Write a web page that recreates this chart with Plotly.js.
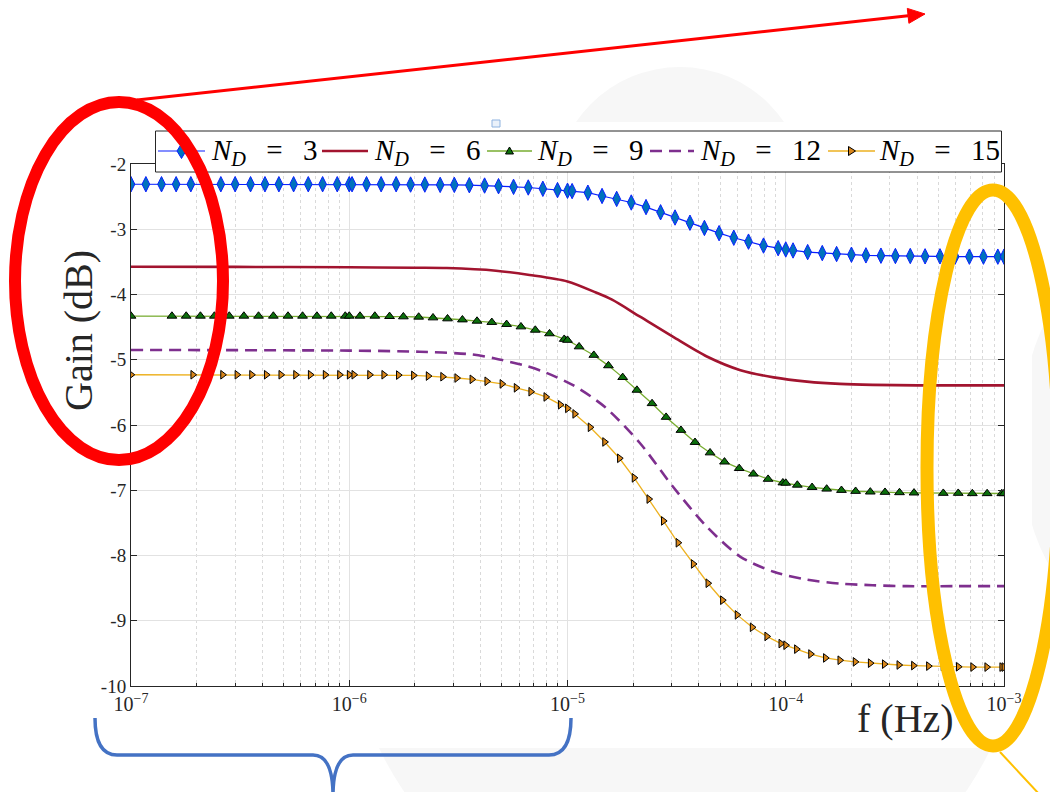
<!DOCTYPE html>
<html>
<head>
<meta charset="utf-8">
<script src="https://cdn.plot.ly/plotly-3.0.1.min.js"></script>
<style>
  html, body { margin: 0; padding: 0; background: #ffffff; }
  #chart { width: 1050px; height: 792px; }
</style>
</head>
<body>
<div id="chart"></div>
<script>
// ---------------------------------------------------------------
// Gain (dB) versus frequency f (Hz) for several values of N_D
// ---------------------------------------------------------------

const seriesNames = [3, 6, 9, 12, 15];

// N_D = 3
const freqND3 = [1.00e-7, 1.17e-7, 1.38e-7, 1.61e-7, 1.88e-7, 2.21e-7, 2.58e-7, 3.00e-7, 3.53e-7, 4.11e-7,
  4.76e-7, 5.56e-7, 6.49e-7, 7.55e-7, 8.81e-7, 1.00e-6, 1.03e-6, 1.20e-6, 1.40e-6, 1.64e-6,
  1.91e-6, 2.22e-6, 2.61e-6, 3.03e-6, 3.55e-6, 4.17e-6, 4.83e-6, 5.66e-6, 6.61e-6, 7.71e-6,
  9.00e-6, 1.00e-5, 1.05e-5, 1.24e-5, 1.44e-5, 1.68e-5, 1.96e-5, 2.29e-5, 2.67e-5, 3.11e-5,
  3.64e-5, 4.24e-5, 4.95e-5, 5.78e-5, 6.75e-5, 7.91e-5, 9.23e-5, 1.00e-4, 1.08e-4, 1.26e-4,
  1.47e-4, 1.71e-4, 2.00e-4, 2.33e-4, 2.73e-4, 3.18e-4, 3.72e-4, 4.35e-4, 5.09e-4, 5.97e-4,
  6.94e-4, 8.05e-4, 9.37e-4, 1.00e-3];
const gainND3 = [-2.31, -2.31, -2.31, -2.31, -2.31, -2.31, -2.31, -2.31, -2.31, -2.31,
  -2.31, -2.31, -2.31, -2.31, -2.31, -2.31, -2.31, -2.31, -2.31, -2.31,
  -2.315, -2.315, -2.32, -2.32, -2.325, -2.33, -2.34, -2.35, -2.36, -2.38,
  -2.40, -2.41, -2.415, -2.44, -2.49, -2.535, -2.59, -2.66, -2.74, -2.82,
  -2.90, -2.98, -3.06, -3.13, -3.19, -3.25, -3.29, -3.31, -3.325, -3.35,
  -3.365, -3.38, -3.39, -3.40, -3.405, -3.41, -3.41, -3.415, -3.415, -3.42,
  -3.42, -3.42, -3.42, -3.42];

// N_D = 6
const freqND6 = [1e-7, 3e-7, 1e-6, 2e-6, 2.8e-6, 4.7e-6, 6.7e-6, 1e-5, 1.35e-5, 1.6e-5,
  2.15e-5, 3.05e-5, 4.35e-5, 6.2e-5, 8.8e-5, 1.25e-4, 1.77e-4, 2.5e-4, 4e-4, 6e-4, 1e-3];
const gainND6 = [-3.575, -3.577, -3.583, -3.59, -3.595, -3.635, -3.70, -3.80, -3.97, -4.08,
  -4.34, -4.65, -4.95, -5.16, -5.27, -5.335, -5.37, -5.385, -5.392, -5.393, -5.393];

// N_D = 9
const freqND9 = [1.00e-7, 1.54e-7, 1.79e-7, 2.08e-7, 2.41e-7, 2.82e-7, 3.29e-7, 3.84e-7, 4.49e-7, 5.24e-7,
  6.11e-7, 7.11e-7, 8.27e-7, 9.59e-7, 1.00e-6, 1.12e-6, 1.31e-6, 1.53e-6, 1.77e-6, 2.08e-6,
  2.42e-6, 2.82e-6, 3.30e-6, 3.85e-6, 4.50e-6, 5.26e-6, 6.12e-6, 7.12e-6, 8.27e-6, 9.66e-6,
  1.00e-5, 1.13e-5, 1.32e-5, 1.54e-5, 1.79e-5, 2.08e-5, 2.44e-5, 2.83e-5, 3.31e-5, 3.84e-5,
  4.50e-5, 5.24e-5, 6.12e-5, 7.11e-5, 8.30e-5, 9.70e-5, 1.00e-4, 1.13e-4, 1.32e-4, 1.54e-4,
  1.80e-4, 2.09e-4, 2.44e-4, 2.85e-4, 3.32e-4, 3.87e-4, 4.50e-4, 5.27e-4, 6.17e-4, 7.16e-4,
  8.37e-4, 9.77e-4, 1.00e-3];
const gainND9 = [-4.33, -4.33, -4.33, -4.33, -4.33, -4.33, -4.33, -4.33, -4.33, -4.33,
  -4.33, -4.33, -4.33, -4.33, -4.33, -4.33, -4.33, -4.335, -4.34, -4.345,
  -4.356, -4.371, -4.387, -4.407, -4.426, -4.457, -4.494, -4.545, -4.60, -4.685,
  -4.70, -4.80, -4.93, -5.09, -5.27, -5.465, -5.67, -5.88, -6.08, -6.265,
  -6.425, -6.565, -6.665, -6.75, -6.83, -6.885, -6.89, -6.92, -6.955, -6.98,
  -7.00, -7.015, -7.025, -7.03, -7.035, -7.04, -7.04, -7.045, -7.045, -7.05,
  -7.05, -7.05, -7.05];

// N_D = 12
const freqND12 = [1e-7, 1e-6, 2.1e-6, 3.6e-6, 4.6e-6, 6.5e-6, 8e-6, 1.06e-5, 1.48e-5, 2.15e-5,
  3.05e-5, 4.35e-5, 6.2e-5, 8.8e-5, 1.25e-4, 1.77e-4, 2.5e-4, 3.6e-4, 6e-4, 1e-3];
const gainND12 = [-4.85, -4.86, -4.877, -4.917, -4.978, -5.097, -5.20, -5.39, -5.72, -6.28,
  -6.95, -7.56, -8.02, -8.25, -8.37, -8.43, -8.456, -8.47, -8.47, -8.47];

// N_D = 15
const freqND15 = [1.00e-7, 1.92e-7, 2.24e-7, 2.63e-7, 3.06e-7, 3.57e-7, 4.17e-7, 4.86e-7, 5.68e-7, 6.63e-7,
  7.76e-7, 9.03e-7, 1.00e-6, 1.05e-6, 1.24e-6, 1.44e-6, 1.68e-6, 1.97e-6, 2.30e-6, 2.68e-6,
  3.11e-6, 3.65e-6, 4.27e-6, 5.01e-6, 5.82e-6, 6.79e-6, 7.96e-6, 9.27e-6, 1.00e-5, 1.08e-5,
  1.27e-5, 1.48e-5, 1.73e-5, 2.02e-5, 2.36e-5, 2.75e-5, 3.21e-5, 3.77e-5, 4.40e-5, 5.13e-5,
  5.99e-5, 7.02e-5, 8.19e-5, 9.50e-5, 1.00e-4, 1.12e-4, 1.30e-4, 1.52e-4, 1.77e-4, 2.08e-4,
  2.44e-4, 2.83e-4, 3.30e-4, 3.85e-4, 4.51e-4, 5.26e-4, 6.18e-4, 7.19e-4, 8.34e-4, 9.77e-4,
  1.00e-3];
const gainND15 = [-5.23, -5.23, -5.23, -5.23, -5.23, -5.23, -5.23, -5.23, -5.23, -5.23,
  -5.23, -5.23, -5.23, -5.23, -5.23, -5.23, -5.235, -5.24, -5.25, -5.26,
  -5.28, -5.30, -5.33, -5.37, -5.43, -5.49, -5.57, -5.69, -5.745, -5.83,
  -6.035, -6.26, -6.51, -6.81, -7.135, -7.47, -7.805, -8.13, -8.425, -8.685,
  -8.91, -9.10, -9.24, -9.35, -9.375, -9.435, -9.51, -9.57, -9.605, -9.63,
  -9.65, -9.665, -9.678, -9.687, -9.695, -9.70, -9.705, -9.71, -9.71, -9.71,
  -9.71];

// axis ticks
const xTickVals = [1e-7, 1e-6, 1e-5, 1e-4, 1e-3];
const xTickText = ['10<sup>\u22127</sup>', '10<sup>\u22126</sup>', '10<sup>\u22125</sup>',
                   '10<sup>\u22124</sup>', '10<sup>\u22123</sup>'];
const yTickVals = [-10, -9, -8, -7, -6, -5, -4, -3, -2];
const yTickText = ['-10', '-9', '-8', '-7', '-6', '-5', '-4', '-3', '-2'];

// ---------------------------------------------------------------
// styling
// ---------------------------------------------------------------
const SERIF = 'Liberation Serif, Times New Roman, serif';
const INK = '#262626';
const COL = {
  nd3Line: '#0a1eff', nd3Fill: '#0072BD',
  nd6: '#A2142F',
  nd9Line: '#77AC30', nd9Fill: '#0b6e0b',
  nd12: '#7E2F8E',
  nd15Line: '#EDB120', nd15Fill: '#D9861A'
};

// plot-area box in page pixels, used to place paper-referenced decorations
const L = 131, T = 164, W = 873, H = 522;
const px = x => (x - L) / W;
const py = y => (T + H - y) / H;
const pxPath = s => s.replace(/(-?[\d.]+),(-?[\d.]+)/g,
  (m, a, b) => px(+a).toFixed(5) + ',' + py(+b).toFixed(5));

// minor tick positions of the log axis (2..9 within each decade)
const xMinor = [];
for (let d = -7; d < -3; d++) for (let k = 2; k <= 9; k++) xMinor.push(k * Math.pow(10, d));

const traces = [
  { x: freqND3, y: gainND3, mode: 'lines+markers', name: 'N_D = 3',
    line: { color: COL.nd3Line, width: 1.2 },
    marker: { symbol: 'diamond-tall', size: 11, color: COL.nd3Fill, line: { color: COL.nd3Line, width: 1 } } },
  { x: freqND6, y: gainND6, mode: 'lines', name: 'N_D = 6',
    line: { color: COL.nd6, width: 2.6, shape: 'spline', smoothing: 0.8 } },
  { x: freqND9, y: gainND9, mode: 'lines+markers', name: 'N_D = 9',
    line: { color: COL.nd9Line, width: 1.3 },
    marker: { symbol: 'triangle-up', size: 8.5, color: COL.nd9Fill, line: { color: '#000', width: 1 } } },
  { x: freqND12, y: gainND12, mode: 'lines', name: 'N_D = 12',
    line: { color: COL.nd12, width: 2.6, dash: '12px,7px', shape: 'spline', smoothing: 0.8 } },
  { x: freqND15, y: gainND15, mode: 'lines+markers', name: 'N_D = 15',
    line: { color: COL.nd15Line, width: 1.3 },
    marker: { symbol: 'triangle-right', size: 7.5, color: COL.nd15Fill, line: { color: '#000', width: 1 } } }
];

// ---------------------------------------------------------------
// legend drawn as a framed strip above the axes
// ---------------------------------------------------------------
const legY = 151;
const legendItems = [
  { x0: 158, x1: 205, tx: 209, kind: 'diamond', line: COL.nd3Line, lw: 1.2, fill: COL.nd3Fill },
  { x0: 322, x1: 368, tx: 372, kind: 'none', line: COL.nd6, lw: 2.6 },
  { x0: 487, x1: 532, tx: 535, kind: 'tri-up', line: COL.nd9Line, lw: 1.3, fill: COL.nd9Fill },
  { x0: 650, x1: 694, tx: 698, kind: 'none', line: COL.nd12, lw: 2.6, dash: '12px,7px' },
  { x0: 828, x1: 875, tx: 877, kind: 'tri-right', line: COL.nd15Line, lw: 1.3, fill: COL.nd15Fill }
];

const shapes = [];
const annotations = [];

// faint background artwork around the figure
const GHOST = '#f7f7f7';
shapes.push({ type: 'circle', xref: 'paper', yref: 'paper', layer: 'below',
  x0: px(554), x1: px(806), y0: py(319), y1: py(67), fillcolor: GHOST, line: { width: 0 } });
shapes.push({ type: 'circle', xref: 'paper', yref: 'paper', layer: 'below',
  x0: px(345), x1: px(1025), y0: py(940), y1: py(260), fillcolor: GHOST, line: { width: 0 } });
shapes.push({ type: 'circle', xref: 'paper', yref: 'paper', layer: 'below',
  x0: px(1020), x1: px(1200), y0: py(610), y1: py(270), fillcolor: GHOST, line: { width: 0 } });
// white figure sheet
shapes.push({ type: 'rect', xref: 'paper', yref: 'paper', layer: 'below',
  x0: px(-5), x1: px(1032), y0: py(748), y1: py(122), fillcolor: '#ffffff', line: { width: 0 } });

// legend frame
shapes.push({ type: 'rect', xref: 'paper', yref: 'paper', layer: 'above',
  x0: px(155.5), x1: px(1001.5), y0: py(172), y1: py(131),
  fillcolor: '#ffffff', line: { color: INK, width: 1 } });

legendItems.forEach((it, i) => {
  shapes.push({ type: 'line', xref: 'paper', yref: 'paper', layer: 'above',
    x0: px(it.x0), x1: px(it.x1), y0: py(legY), y1: py(legY),
    line: { color: it.line, width: it.lw, dash: it.dash || 'solid' } });
  const cx = (it.x0 + it.x1) / 2;
  let p = null, edge = '#000';
  if (it.kind === 'diamond') {
    p = `M${cx},${legY - 7.5} L${cx + 4.5},${legY} L${cx},${legY + 7.5} L${cx - 4.5},${legY} Z`;
    edge = it.line;
  } else if (it.kind === 'tri-up') {
    p = `M${cx - 4},${legY + 3} L${cx + 4},${legY + 3} L${cx},${legY - 4} Z`;
  } else if (it.kind === 'tri-right') {
    p = `M${cx - 3},${legY - 4.5} L${cx + 4},${legY} L${cx - 3},${legY + 4.5} Z`;
  }
  if (p) shapes.push({ type: 'path', xref: 'paper', yref: 'paper', layer: 'above',
    path: pxPath(p), fillcolor: it.fill, line: { color: edge, width: 1 } });
  annotations.push({ xref: 'paper', yref: 'paper', x: px(it.tx), y: py(legY + 1),
    xanchor: 'left', yanchor: 'middle', showarrow: false,
    text: '<i>N</i><sub><i>D</i></sub>\u2002\u2009=\u2002\u2009' + seriesNames[i],
    font: { family: SERIF, size: 29, color: '#000' } });
});

// highlight marks drawn over the figure
shapes.push({ type: 'circle', xref: 'paper', yref: 'paper', layer: 'above',
  x0: px(15), x1: px(223), y0: py(460), y1: py(102),
  line: { color: '#ff0000', width: 12 }, fillcolor: 'rgba(0,0,0,0)' });
shapes.push({ type: 'circle', xref: 'paper', yref: 'paper', layer: 'above',
  x0: px(927), x1: px(1059), y0: py(746), y1: py(190),
  line: { color: '#ffc000', width: 13 }, fillcolor: 'rgba(0,0,0,0)' });
shapes.push({ type: 'line', xref: 'paper', yref: 'paper', layer: 'above',
  x0: px(1000), y0: py(752), x1: px(1040), y1: py(795), line: { color: '#ffc000', width: 2 } });

// arrow pointing up to the heading
(function () {
  const tail = [137, 100], tip = [925, 14];
  const dx = tip[0] - tail[0], dy = tip[1] - tail[1];
  const len = Math.hypot(dx, dy), ux = dx / len, uy = dy / len;
  const hl = 17, hw = 7.5;
  const bx = tip[0] - hl * ux, by = tip[1] - hl * uy;
  shapes.push({ type: 'line', xref: 'paper', yref: 'paper', layer: 'above',
    x0: px(tail[0]), y0: py(tail[1]), x1: px(bx), y1: py(by), line: { color: '#ff0000', width: 3 } });
  shapes.push({ type: 'path', xref: 'paper', yref: 'paper', layer: 'above',
    path: pxPath(`M${tip[0]},${tip[1]} L${bx - hw * uy},${by + hw * ux} L${bx + hw * uy},${by - hw * ux} Z`),
    fillcolor: '#ff0000', line: { color: '#ff0000', width: 1 } });
})();

// curly brace under the low-frequency decades
shapes.push({ type: 'path', xref: 'paper', yref: 'paper', layer: 'above',
  path: pxPath('M95,718 Q95,755 117,755 L313,755 Q333,755 333,796 M333,796 Q333,755 353,755 L549,755 Q571,755 571,718'),
  line: { color: '#4472C4', width: 3.5 }, fillcolor: 'rgba(0,0,0,0)' });

// small selection handle
shapes.push({ type: 'rect', xref: 'paper', yref: 'paper', layer: 'above',
  x0: px(492), x1: px(500), y0: py(127), y1: py(120),
  fillcolor: '#eaf1fa', line: { color: '#8fb3e0', width: 1 } });

// axis titles
annotations.push({ xref: 'paper', yref: 'paper', x: px(78), y: py(331), textangle: -90,
  xanchor: 'center', yanchor: 'middle', showarrow: false, text: 'Gain (dB)',
  font: { family: SERIF, size: 40, color: INK } });
annotations.push({ xref: 'paper', yref: 'paper', x: px(905), y: py(718),
  xanchor: 'center', yanchor: 'middle', showarrow: false, text: 'f (Hz)',
  font: { family: SERIF, size: 40, color: INK } });

const layout = {
  width: 1050, height: 792,
  margin: { l: L, r: 1050 - L - W, t: T, b: 792 - T - H, autoexpand: false },
  paper_bgcolor: '#ffffff', plot_bgcolor: '#ffffff',
  showlegend: false,
  xaxis: {
    type: 'log', range: [-7, -3],
    tickmode: 'array', tickvals: xTickVals, ticktext: xTickText,
    tickfont: { family: SERIF, size: 20, color: INK },
    ticks: 'inside', ticklen: 6, tickcolor: INK, tickwidth: 1,
    showline: true, linecolor: INK, linewidth: 1, mirror: 'ticks',
    showgrid: true, gridcolor: '#e2e2e2', gridwidth: 1, zeroline: false,
    minor: { tickmode: 'array', tickvals: xMinor, ticks: 'inside', ticklen: 3, tickcolor: INK,
             showgrid: true, gridcolor: '#d9d9d9', griddash: 'dot', gridwidth: 1 }
  },
  yaxis: {
    range: [-10, -2],
    tickmode: 'array', tickvals: yTickVals, ticktext: yTickText,
    tickfont: { family: SERIF, size: 19, color: INK },
    ticks: 'inside', ticklen: 6, tickcolor: INK, tickwidth: 1,
    showline: true, linecolor: INK, linewidth: 1, mirror: 'ticks',
    showgrid: true, gridcolor: '#e2e2e2', gridwidth: 1, zeroline: false
  },
  shapes: shapes,
  annotations: annotations
};

Plotly.newPlot('chart', traces, layout, { staticPlot: true, displayModeBar: false });
</script>
</body>
</html>
